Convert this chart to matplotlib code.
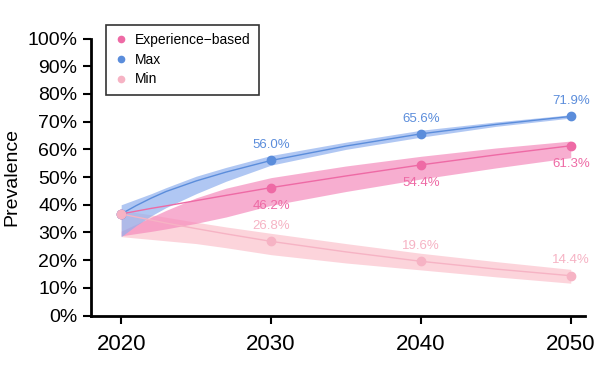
import matplotlib
matplotlib.use("Agg")
import matplotlib.pyplot as plt
from matplotlib.ticker import FuncFormatter

plt.rcParams['font.family'] = ['Liberation Sans', 'DejaVu Sans']

# years (ribbons and fitted lines)
years = [2020, 2021, 2022, 2023, 2025, 2027, 2030, 2035, 2040, 2045, 2050]
# years with marked points
point_years = [2020, 2030, 2040, 2050]

exp_mid = [36.7, 37.7, 38.7, 39.6, 41.5, 43.4, 46.2, 50.4, 54.4, 58.0, 61.3]
exp_low = [28.8, 29.6, 30.4, 31.3, 33.3, 35.6, 39.8, 44.8, 49.3, 53.3, 57.0]
exp_high = [30.5, 33.0, 35.5, 38.0, 42.5, 46.0, 49.8, 54.0, 57.5, 60.5, 63.0]
exp_pts = [36.7, 46.2, 54.4, 61.3]

max_mid = [36.7, 39.7, 42.4, 44.8, 48.6, 51.8, 56.0, 61.2, 65.6, 69.0, 71.9]
max_low = [28.5, 32.5, 36.0, 39.0, 44.0, 48.5, 54.3, 60.0, 64.4, 68.3, 71.3]
max_high = [40.0, 42.0, 44.0, 46.2, 50.3, 53.5, 57.8, 62.6, 66.9, 69.9, 72.5]
max_pts = [36.7, 56.0, 65.6, 71.9]

min_mid = [36.7, 35.6, 34.5, 33.4, 31.4, 29.5, 26.8, 23.0, 19.6, 16.8, 14.4]
min_low = [28.5, 28.0, 27.5, 27.0, 26.0, 24.5, 22.0, 19.0, 16.5, 14.0, 11.7]
min_high = [38.0, 37.2, 36.4, 35.5, 33.7, 32.0, 29.7, 26.0, 22.5, 19.5, 16.7]
min_pts = [36.7, 26.8, 19.6, 14.4]

c_exp, f_exp = '#ee6aa5', '#f58cbd'
c_max, f_max = '#5b8ddb', '#8fb0ee'
c_min, f_min = '#f6b3c4', '#fbc6d0'

fig = plt.figure(figsize=(6, 3.67), dpi=100)
ax = fig.add_axes([0.152, 0.14, 0.823, 0.755])

# ribbons
ax.fill_between(years, min_low, min_high, color=f_min, alpha=0.75, lw=0)
ax.fill_between(years, exp_low, exp_high, color=f_exp, alpha=0.7, lw=0)
ax.fill_between(years, max_low, max_high, color=f_max, alpha=0.7, lw=0)

# lines + points
series = [
    ('Experience\u2212based', exp_mid, exp_pts, c_exp, -13),
    ('Max', max_mid, max_pts, c_max, 11),
    ('Min', min_mid, min_pts, c_min, 11),
]
for name, mid, pts, col, off in series:
    ax.plot(years, mid, color=col, lw=1)
    ax.plot(point_years, pts, 'o', color=col, ms=6, label=name)
    for yr, v in zip(point_years[1:], pts[1:]):
        ax.annotate(f'{v:.1f}%', (yr, v), xytext=(0, off), textcoords='offset points',
                    ha='center', va='center', color=col, fontsize=9.5)

ax.set_xlim(2018, 2050.95)
ax.set_ylim(0, 100)
ax.set_xticks(point_years)
ax.set_yticks(range(0, 101, 10))
ax.yaxis.set_major_formatter(FuncFormatter(lambda v, p: f'{int(v)}%'))
ax.tick_params(axis='both', width=1.5, length=6, color='black')
ax.tick_params(axis='y', labelsize=14, pad=4)
ax.tick_params(axis='x', labelsize=16, pad=7)
ax.set_ylabel('Prevalence', fontsize=14, labelpad=5)

for s in ['top', 'right']:
    ax.spines[s].set_visible(False)
for s in ['left', 'bottom']:
    ax.spines[s].set_linewidth(2)

leg = fig.legend(loc='upper left', bbox_to_anchor=(0.177, 0.932), borderaxespad=0,
                 frameon=True, fancybox=False, edgecolor='black', fontsize=10,
                 handletextpad=0.5, borderpad=0.6, labelspacing=0.4,
                 handlelength=1.0, markerscale=0.75)
leg.get_frame().set_linewidth(1.2)

fig.savefig('out.png', dpi=100)
